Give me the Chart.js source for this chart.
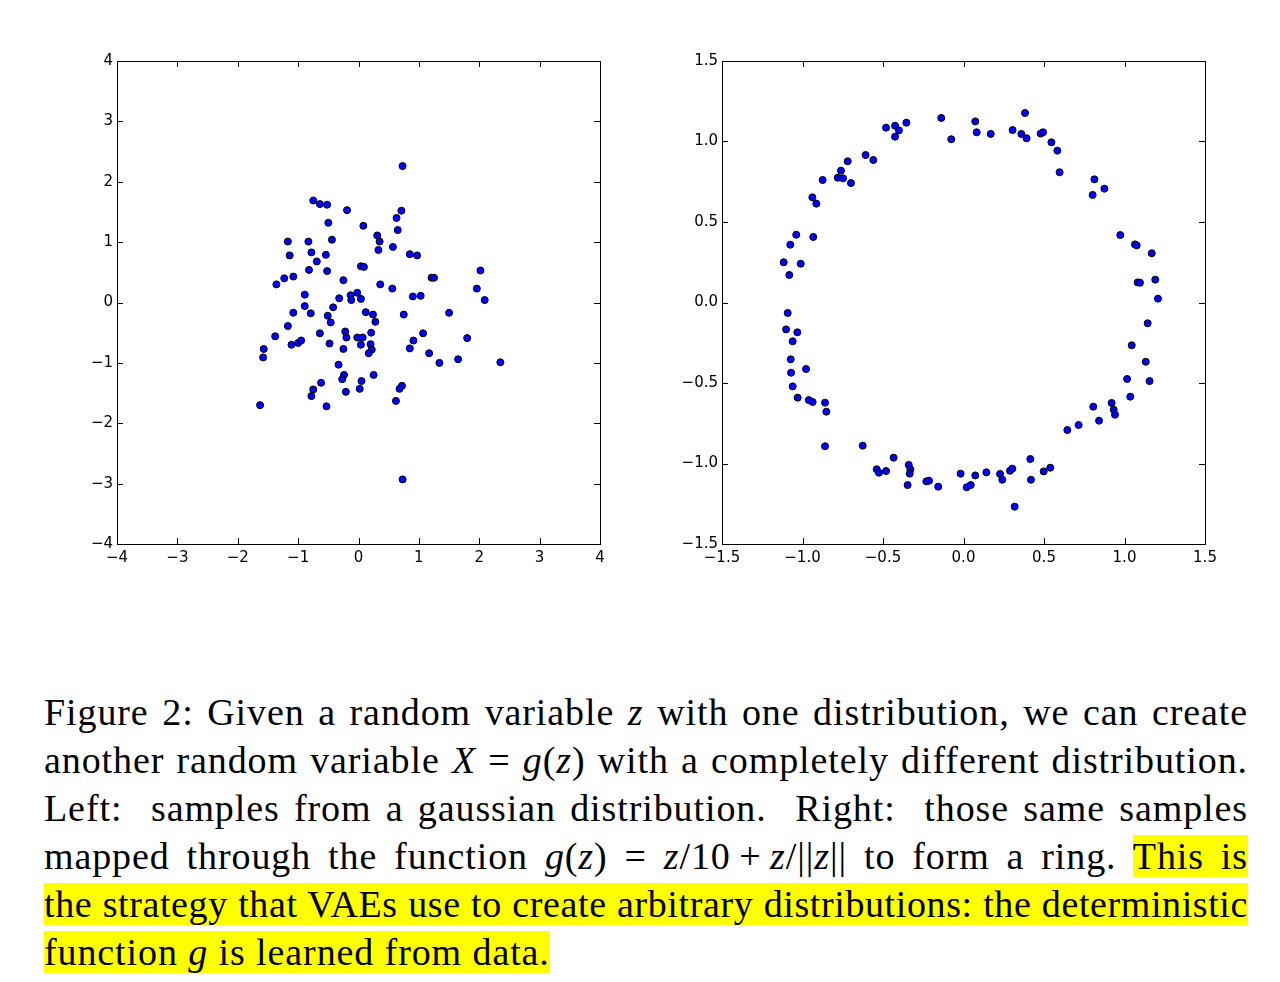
<!DOCTYPE html>
<html>
<head>
<meta charset="utf-8">
<script src="https://cdn.jsdelivr.net/npm/chart.js@4"></script>
<style>
  html, body { margin: 0; padding: 0; background: #fff; }
  body { width: 1280px; height: 982px; position: relative; overflow: hidden; }
  .plot { position: absolute; top: 40px; }
  #leftWrap { left: 40px; }
  #rightWrap { left: 645px; }
  .cap {
    position: absolute; left: 44px; top: 688px; width: 1204px;
    font-family: "Liberation Serif", "DejaVu Serif", serif;
    font-size: 38px; line-height: 48px; color: #000; letter-spacing: 0.9px;
  }
  .ln { text-align: justify; text-align-last: justify; height: 48px; }
  .ln.last { text-align-last: left; }
  .hl { background: #ffff00; }
</style>
</head>
<body>
<div class="plot" id="leftWrap"><canvas id="gaussChart" width="580" height="540"></canvas></div>
<div class="plot" id="rightWrap"><canvas id="ringChart" width="580" height="540"></canvas></div>

<div class="cap">
  <div class="ln">Figure 2: Given a random variable <i>z</i> with one distribution, we can create</div>
  <div class="ln">another random variable <i>X</i> = <i>g</i>(<i>z</i>) with a completely different distribution.</div>
  <div class="ln">Left: &nbsp;samples from a gaussian distribution. &nbsp;Right: &nbsp;those same samples</div>
  <div class="ln">mapped through the function <i>g</i>(<i>z</i>) = <i>z</i>/10&#8201;+&#8201;<i>z</i>/||<i>z</i>|| to form a ring. <span class="hl">This is</span></div>
  <div class="ln"><span class="hl">the strategy that VAEs use to create arbitrary distributions: the deterministic</span></div>
  <div class="ln last"><span class="hl">function <i>g</i> is learned from data.</span></div>
</div>

<script>
'use strict';

// ---- tick values ----
const gaussTicks = [-4, -3, -2, -1, 0, 1, 2, 3, 4];
const ringTicks  = [-1.5, -1.0, -0.5, 0.0, 0.5, 1.0, 1.5];

// ---- left panel: gaussian samples ----
const gaussX = [
  0.73, -0.75, -0.64, -0.52, -0.19, 0.71, 0.63, -0.50, 0.08, 0.65,
  0.31, -1.17, -0.83, -0.44, 0.35, 0.33, 0.57, -1.14, -0.78, -0.54,
  0.85, 0.97, -0.69, -0.82, -0.52, 0.04, 0.09, 2.02, -1.36, -1.23,
  -1.08, -0.25, 1.21, 1.25, 0.36, 0.56, 1.96, 2.09, -0.89, -0.32,
  -0.13, -0.12, -0.02, 0.04, 0.90, 1.03, -0.89, -0.42, -1.08, -0.79,
  -0.51, 0.12, 0.24, 0.75, 1.50, -1.17, -0.46, 0.28,
  -1.38, -0.64, -0.22, -0.20, -0.02, 0.07, 0.21, 0.04, 0.20, 0.22,
  0.17, -1.11, -1.00, -0.95, -0.48, -0.25, -1.57, -1.58, 1.07, 0.91,
  0.85, 1.17, 1.34, 1.65, 1.80, 2.35, -0.33, -0.24, -0.27, 0.25,
  0.05, 0.02, -0.21, -0.62, -0.75, -0.78, -0.53, 0.72, 0.68, 0.62,
  -1.63, 0.73
];
const gaussY = [
  2.26, 1.69, 1.63, 1.62, 1.53, 1.52, 1.40, 1.32, 1.27, 1.20,
  1.11, 1.01, 1.01, 1.04, 1.01, 0.87, 0.92, 0.78, 0.83, 0.79,
  0.80, 0.78, 0.68, 0.54, 0.52, 0.60, 0.59, 0.53, 0.30, 0.40,
  0.43, 0.37, 0.41, 0.41, 0.30, 0.23, 0.23, 0.04, 0.13, 0.07,
  0.12, 0.04, 0.16, 0.06, 0.10, 0.11, -0.06, -0.08, -0.17, -0.18,
  -0.22, -0.16, -0.20, -0.20, -0.17, -0.39, -0.33, -0.32,
  -0.56, -0.51, -0.48, -0.58, -0.58, -0.58, -0.50, -0.70, -0.69, -0.78,
  -0.84, -0.70, -0.67, -0.63, -0.68, -0.77, -0.77, -0.91, -0.51, -0.63,
  -0.76, -0.84, -1.00, -0.94, -0.59, -0.99, -1.03, -1.20, -1.27, -1.20,
  -1.30, -1.43, -1.48, -1.33, -1.44, -1.55, -1.72, -1.38, -1.43, -1.63,
  -1.70, -2.93
];

// ---- right panel: samples mapped to a ring ----
const ringX = [
  -0.138, 0.073, 0.082, -0.076, -0.481, -0.425, -0.401, -0.425, -0.355, -0.608,
  -0.560, -0.719, -0.761, -0.781, -0.748, -0.699, -0.875, -0.939, -0.914, -1.039,
  -1.076, -0.933, -1.117, -1.011, -1.082,
  0.169, 0.382, 0.305, 0.359, 0.392, 0.479, 0.494, 0.546, 0.583, 0.597,
  0.813, 0.875, 0.802, 0.974, 1.065, 1.076, 1.169, 1.082, 1.096, 1.191,
  1.208,
  -1.092, -1.102, -1.032, -1.061, -1.073, -0.978, -1.071, -1.061, -1.030, -0.961,
  -0.937, -0.860, -0.852, -0.860, -0.626, -0.434, -0.539, -0.525, -0.481, -0.340,
  -0.330, -0.334, -0.347, -0.231, -0.214, -0.157, -0.018, 0.073, 0.020, 0.045,
  0.142, 0.227, 0.241, 0.289, 0.303, 0.318, 0.415, 0.419, 0.498, 0.539,
  0.645, 0.715, 0.806, 0.842, 0.920, 0.933, 0.941, 1.016, 1.036, 1.045,
  1.132, 1.156, 1.144
];
const ringY = [
  1.146, 1.125, 1.057, 1.014, 1.086, 1.098, 1.069, 1.030, 1.117, 0.916,
  0.885, 0.877, 0.819, 0.775, 0.771, 0.742, 0.761, 0.653, 0.614, 0.421,
  0.359, 0.407, 0.250, 0.241, 0.171,
  1.047, 1.177, 1.071, 1.047, 1.020, 1.049, 1.057, 0.995, 0.943, 0.809,
  0.765, 0.707, 0.668, 0.419, 0.361, 0.355, 0.306, 0.125, 0.123, 0.142,
  0.024,
  -0.065, -0.167, -0.185, -0.241, -0.353, -0.413, -0.436, -0.521, -0.591, -0.606,
  -0.618, -0.622, -0.678, -0.893, -0.889, -0.964, -1.036, -1.057, -1.047, -1.009,
  -1.036, -1.063, -1.134, -1.111, -1.107, -1.144, -1.063, -1.074, -1.148, -1.134,
  -1.055, -1.065, -1.101, -1.045, -1.032, -1.268, -0.972, -1.101, -1.049, -1.026,
  -0.792, -0.761, -0.647, -0.734, -0.624, -0.666, -0.697, -0.475, -0.585, -0.266,
  -0.368, -0.488, -0.129
];

const MINUS = '\u2212';
const tickFont = { family: "'DejaVu Sans', sans-serif", size: 15 };

// black frame with inward ticks on all four sides (matplotlib classic look)
const frameTicks = {
  id: 'frameTicks',
  afterDatasetsDraw(chart) {
    const { ctx, chartArea: a, scales } = chart;
    const len = 6;
    ctx.save();
    ctx.strokeStyle = '#000';
    ctx.lineWidth = 1;
    ctx.beginPath();
    scales.x.ticks.forEach(t => {
      const px = Math.round(scales.x.getPixelForValue(t.value)) + 0.5;
      ctx.moveTo(px, a.bottom); ctx.lineTo(px, a.bottom - len);
      ctx.moveTo(px, a.top);    ctx.lineTo(px, a.top + len);
    });
    scales.y.ticks.forEach(t => {
      const py = Math.round(scales.y.getPixelForValue(t.value)) + 0.5;
      ctx.moveTo(a.left, py);  ctx.lineTo(a.left + len, py);
      ctx.moveTo(a.right, py); ctx.lineTo(a.right - len, py);
    });
    ctx.stroke();
    ctx.strokeRect(Math.round(a.left) + 0.5, Math.round(a.top) + 0.5,
                   Math.round(a.right - a.left), Math.round(a.bottom - a.top));
    ctx.restore();
  }
};

function axisOpts(ticks, fmt, isX) {
  return {
    type: 'linear',
    min: ticks[0],
    max: ticks[ticks.length - 1],
    afterBuildTicks: s => { s.ticks = ticks.map(v => ({ value: v })); },
    afterFit: s => { if (isX) s.height = 36; else s.width = 77; },
    grid: { display: false, drawTicks: false },
    border: { display: false },
    ticks: {
      autoSkip: false, maxRotation: 0, color: '#000', font: tickFont,
      padding: isX ? 5 : 4,
      callback: v => (v < 0 ? MINUS : '') + fmt(Math.abs(v)),
    },
  };
}

function renderScatter(id, xs, ys, ticks, fmt) {
  const ctx = document.getElementById(id);
  return new Chart(ctx, {
    type: 'scatter',
    data: {
      datasets: [{
        data: xs.map((x, i) => ({ x, y: ys[i] })),
        backgroundColor: '#0000ff',
        borderColor: '#000',
        borderWidth: 1,
        pointRadius: 3.5,
      }]
    },
    options: {
      responsive: false,
      animation: false,
      devicePixelRatio: 1,
      layout: { padding: { top: 21, right: 20, left: 0, bottom: 0 } },
      plugins: { legend: { display: false }, tooltip: { enabled: false } },
      scales: {
        x: axisOpts(ticks, fmt, true),
        y: axisOpts(ticks, fmt, false),
      }
    },
    plugins: [frameTicks]
  });
}

renderScatter('gaussChart', gaussX, gaussY, gaussTicks, v => String(v));
renderScatter('ringChart', ringX, ringY, ringTicks, v => v.toFixed(1));

// keep each caption line on one line: tighten letter spacing where it would wrap
document.querySelectorAll('.cap .ln').forEach(ln => {
  let ls = 0.9;
  ln.style.height = 'auto';
  while (ln.getBoundingClientRect().height > 50 && ls > -1.5) {
    ls -= 0.1;
    ln.style.letterSpacing = ls + 'px';
  }
  ln.style.height = '48px';
});
</script>
</body>
</html>
